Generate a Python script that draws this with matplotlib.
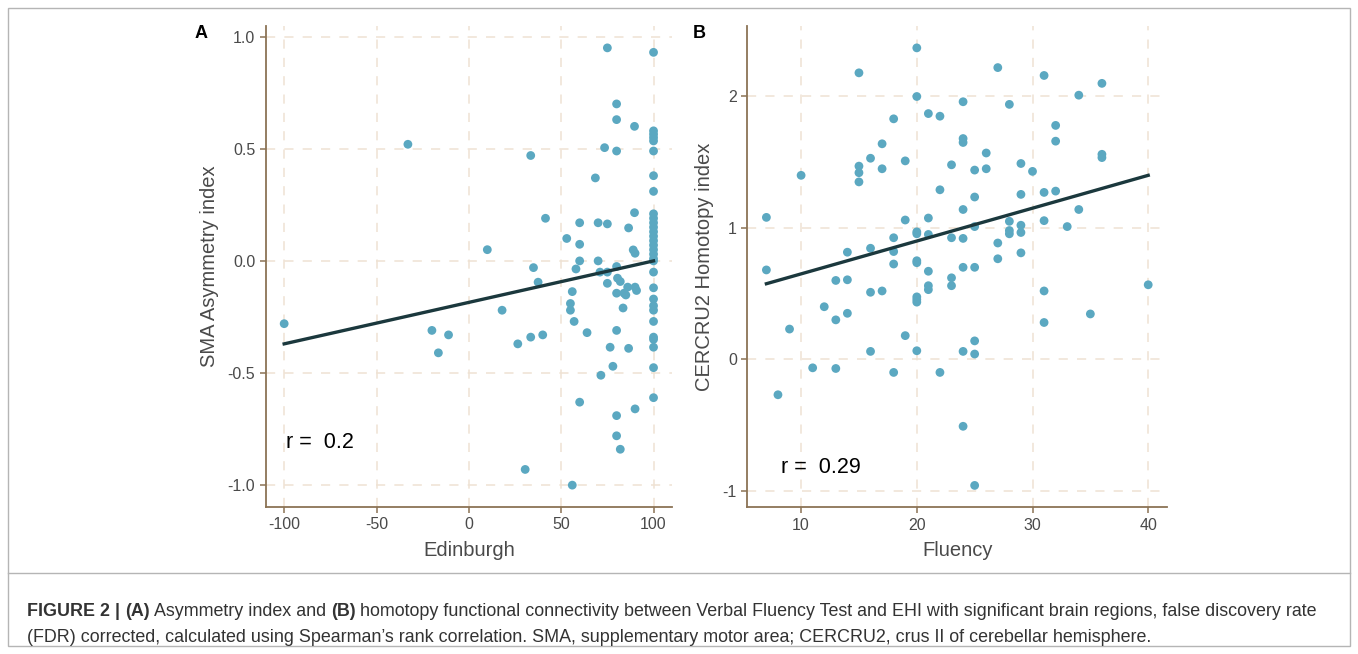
import numpy as np
import matplotlib
matplotlib.use("Agg")
import matplotlib.pyplot as plt
from matplotlib import font_manager
from matplotlib.patches import Rectangle
from matplotlib.lines import Line2D

# Painel A: Edinburgh vs SMA Asymmetry index
edin = [-100, -33, -20, -16.5, -11, 10, 18, 26.5, 30.5, 33.5, 33.5, 35, 37.5, 40, 41.5,
        53, 55, 55, 56, 56, 57, 58, 60, 60, 60, 60, 64, 68.5, 70, 70, 71.5, 71, 73.5,
        75, 75, 75, 75, 76.5, 78, 80, 80, 80, 80, 80.5, 82, 80, 80, 80, 80, 82, 83.5,
        84, 85, 86, 86.5, 86.5, 89, 90, 89.7, 89.7, 90, 90.8, 90,
        100, 100, 100, 100, 100, 100, 100, 100, 100, 100, 100, 100, 100, 100, 100, 100,
        100, 100, 100, 100, 100, 100, 100, 100, 100, 100, 100, 100, 100, 100, 100]
sma = [-0.28, 0.52, -0.31, -0.41, -0.33, 0.05, -0.22, -0.37, -0.93, 0.47, -0.34, -0.03, -0.095, -0.33, 0.19,
       0.10, -0.19, -0.22, -0.137, -1.0, -0.27, -0.036, 0.17, 0.074, 0.0, -0.63, -0.32, 0.37, 0.17, 0.0, -0.51, -0.05, 0.505,
       0.95, 0.165, -0.05, -0.10, -0.385, -0.47, 0.70, 0.63, 0.49, -0.025, -0.077, -0.092, -0.144, -0.31, -0.69, -0.78, -0.84, -0.21,
       -0.144, -0.152, -0.117, 0.147, -0.39, 0.049, 0.034, 0.60, 0.215, -0.117, -0.132, -0.66,
       0.93, 0.58, 0.565, 0.55, 0.535, 0.49, 0.38, 0.31, 0.21, 0.19, 0.17, 0.15, 0.13, 0.11, 0.09, 0.07,
       0.05, 0.03, 0.01, 0.0, -0.05, -0.12, -0.17, -0.20, -0.22, -0.27, -0.34, -0.35, -0.385, -0.476, -0.61]
fit_a_x = [-100, 100]
fit_a_y = [-0.37, 0.0]
r_a = "r =  0.2"

# Painel B: Fluency vs CERCRU2 Homotopy index
fluency = [7, 7, 8, 9, 10, 11, 12, 13, 13, 13, 14, 14, 14, 15, 15, 15, 15, 16, 16, 16, 16,
           17, 17, 17, 18, 18, 18, 18, 18, 19, 19, 19, 20, 20, 20, 20, 20, 20, 20, 20, 20, 20,
           21, 21, 21, 21, 21, 21, 22, 22, 22, 23, 23, 23, 23, 24, 24, 24, 24, 24, 24, 24, 24,
           25, 25, 25, 25, 25, 25, 25, 26, 26, 27, 27, 27, 28, 28, 28, 28, 29, 29, 29, 29, 29,
           30, 31, 31, 31, 31, 31, 32, 32, 32, 33, 34, 34, 35, 36, 36, 36, 40]
cercru = [1.08, 0.68, -0.27, 0.23, 1.40, -0.065, 0.40, 0.60, 0.30, -0.07, 0.815, 0.605, 0.35,
          2.18, 1.47, 1.42, 1.35, 1.53, 0.845, 0.51, 0.06, 1.64, 1.45, 0.52, 1.83, 0.925, 0.82,
          0.725, -0.10, 1.51, 1.06, 0.18, 2.37, 2.0, 0.97, 0.955, 0.75, 0.735, 0.475, 0.455, 0.435,
          0.065, 1.87, 1.075, 0.95, 0.67, 0.56, 0.53, 1.85, 1.29, -0.10, 1.48, 0.925, 0.62, 0.56,
          1.96, 1.68, 1.65, 1.14, 0.92, 0.70, 0.06, -0.51, 1.44, 1.235, 1.01, 0.70, 0.14, 0.04,
          -0.96, 1.57, 1.45, 2.22, 0.885, 0.765, 1.94, 1.05, 0.98, 0.955, 1.49, 1.255, 1.02, 0.965,
          0.81, 1.43, 2.16, 1.27, 1.055, 0.52, 0.28, 1.78, 1.66, 1.28, 1.01, 2.01, 1.14, 0.345,
          2.10, 1.56, 1.535, 0.567]
fit_b_x = [7, 40]
fit_b_y = [0.575, 1.40]
r_b = "r =  0.29"

xticks_a = [-100, -50, 0, 50, 100]
yticks_a = [-1.0, -0.5, 0.0, 0.5, 1.0]
xticks_b = [10, 20, 30, 40]
yticks_b = [-1, 0, 1, 2]

nomes = [f.name for f in font_manager.fontManager.ttflist]
fonte = "Liberation Sans"
fonte_leg = "Liberation Sans Narrow" if "Liberation Sans Narrow" in nomes else "Liberation Sans"
plt.rcParams['font.family'] = [fonte, 'DejaVu Sans']

cor_ponto = "#5ba8c1"
cor_linha = "#1b383d"
cor_eixo = "#8b7355"
cor_grade = "#efe2d3"
cor_texto = "#4a4a4a"

fig = plt.figure(figsize=(13.58, 6.54), dpi=100)
W, H = 1358, 654

def painel(pos, x, y, fx, fy, xt, yt, xl, yl, xlab, ylab, rtxt, rpos, letra, lpos):
    ax = fig.add_axes(pos)
    ax.scatter(x, y, s=40, color=cor_ponto, edgecolors='none', zorder=3)
    ax.plot(fx, fy, color=cor_linha, linewidth=2.4, zorder=4)
    ax.set_xlim(xl)
    ax.set_ylim(yl)
    ax.set_xticks(xt)
    ax.set_yticks(yt)
    ax.grid(True, linestyle=(0, (6, 6)), color=cor_grade, linewidth=1.1, zorder=0)
    for s in ['top', 'right']:
        ax.spines[s].set_visible(False)
    for s in ['left', 'bottom']:
        ax.spines[s].set_color(cor_eixo)
        ax.spines[s].set_linewidth(1.3)
    ax.tick_params(colors=cor_eixo, labelcolor=cor_texto, labelsize=11.5, length=4, width=1.1)
    ax.set_xlabel(xlab, fontsize=14.5, color=cor_texto, labelpad=6)
    ax.set_ylabel(ylab, fontsize=14.5, color=cor_texto, labelpad=6)
    ax.text(rpos[0], rpos[1], rtxt, fontsize=15.5, color='black', ha='left', va='center')
    fig.text(lpos[0] / W, 1 - lpos[1] / H, letra, fontsize=13, fontweight='bold', ha='left', va='center')
    return ax

ax1 = painel([265.7 / W, 1 - 507 / H, (672 - 265.7) / W, (507 - 26) / H],
             edin, sma, fit_a_x, fit_a_y, xticks_a, yticks_a, (-110, 110), (-1.0975, 1.0475),
             "Edinburgh", "SMA Asymmetry index", r_a, (-99, -0.81), "A", (195, 33))
ax1.set_yticklabels(["-1.0", "-0.5", "0.0", "0.5", "1.0"])
ax1.set_xticklabels(["-100", "-50", "0", "50", "100"])

ax2 = painel([747.3 / W, 1 - 507.3 / H, (1167.3 - 747.3) / W, (507.3 - 26) / H],
             fluency, cercru, fit_b_x, fit_b_y, xticks_b, yticks_b, (5.35, 41.65), (-1.1265, 2.5365),
             "Fluency", "CERCRU2 Homotopy index", r_b, (8.3, -0.82), "B", (693, 33))
ax2.set_yticklabels(["-1", "0", "1", "2"])

# Moldura e legenda
fig.add_artist(Rectangle((8 / W, 8 / H), (1350 - 8) / W, (646 - 8) / H, transform=fig.transFigure,
                         fill=False, edgecolor="#b5b5b5", linewidth=1.0))
fig.add_artist(Line2D([8 / W, 1350 / W], [1 - 573 / H, 1 - 573 / H], transform=fig.transFigure,
                      color="#b5b5b5", linewidth=1.0))

linha1 = [("FIGURE 2 | ", 'bold'), ("(A)", 'bold'), (" Asymmetry index and ", 'normal'), ("(B)", 'bold'),
          (" homotopy functional connectivity between Verbal Fluency Test and EHI with significant brain regions, false discovery rate", 'normal')]
linha2 = [("(FDR) corrected, calculated using Spearman\u2019s rank correlation. SMA, supplementary motor area; CERCRU2, crus II of cerebellar hemisphere.", 'normal')]

rend = fig.canvas.get_renderer()
tam = 12.5

def escreve(partes, x0, yc, tam):
    x = x0
    for txt, peso in partes:
        t = fig.text(x / W, 1 - yc / H, txt, fontsize=tam, fontweight=peso, family=fonte_leg,
                     color="#333333", ha='left', va='center')
        bb = t.get_window_extent(renderer=rend)
        x += bb.width
    return x - x0

# ajustar tamanho para a largura da linha 1
largura = escreve(linha1, 27, -100, tam)
for t in list(fig.texts[-len(linha1):]):
    t.remove()
tam = tam * 1293 / largura
escreve(linha1, 27, 612, tam)
escreve(linha2, 27, 637, tam)

fig.savefig("out.png", dpi=100)
